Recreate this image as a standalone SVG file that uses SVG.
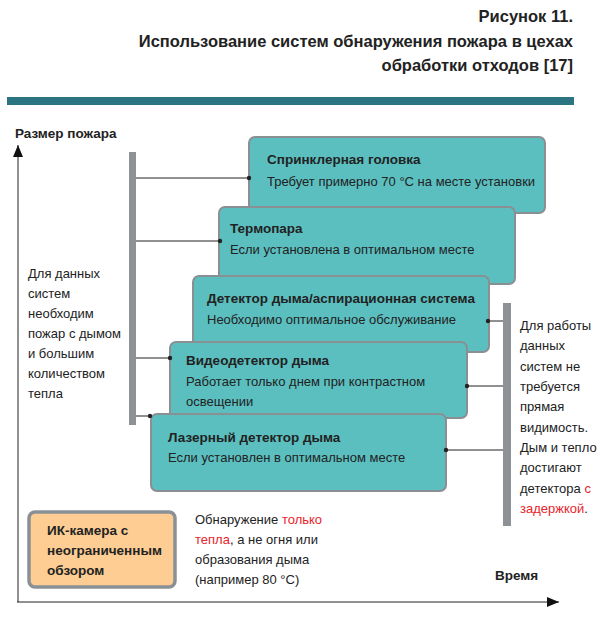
<svg xmlns="http://www.w3.org/2000/svg" width="600" height="618" viewBox="0 0 600 618">
<defs>
<style>
.t{font-family:"Liberation Sans",Arial,sans-serif;font-size:13px;fill:#222}
.b{font-family:"Liberation Sans",Arial,sans-serif;font-size:13.5px;font-weight:bold;fill:#222}
.h{font-family:"Liberation Sans",Arial,sans-serif;font-size:16.5px;font-weight:bold;fill:#222}
.red{fill:#e8242a}
.box{fill:#5bbfbf;stroke:#8a8f94;stroke-width:2}
.bar{fill:#8e9297}
.ln{stroke:#222;stroke-width:1;fill:none}
.dot{fill:#222}
</style>
<marker id="ah" viewBox="0 0 12 10" refX="12" refY="5" markerWidth="12" markerHeight="10" markerUnits="userSpaceOnUse" orient="auto"><path d="M0,0 L12,5 L0,10 Z" fill="#111"/></marker>
</defs>
<rect width="600" height="618" fill="#fff"/>
<g id="title">
<text class="h" x="573" y="22" text-anchor="end">Рисунок 11.</text>
<text class="h" x="573" y="47" text-anchor="end">Использование систем обнаружения пожара в цехах</text>
<text class="h" x="573" y="71" text-anchor="end">обработки отходов [17]</text>
<rect x="7" y="97" width="567" height="8" fill="#2b7583"/>
</g>
<g id="axes">
<line class="ln" x1="18" y1="602" x2="18" y2="145" stroke-width="1.5" marker-end="url(#ah)"/>
<line class="ln" x1="17" y1="602" x2="559" y2="602" stroke-width="1.5" marker-end="url(#ah)"/>
<text class="b" x="15" y="138">Размер пожара</text>
<text class="b" x="495" y="580">Время</text>
</g>
<g id="left-bar">
<rect class="bar" x="129" y="152" width="7" height="273"/>
<text class="t" x="28" y="278">Для данных</text>
<text class="t" x="28" y="298">систем</text>
<text class="t" x="28" y="318">необходим</text>
<text class="t" x="28" y="338">пожар с дымом</text>
<text class="t" x="28" y="358">и большим</text>
<text class="t" x="28" y="378">количеством</text>
<text class="t" x="28" y="398">тепла</text>
</g>
<g id="right-bar">
<rect class="bar" x="503" y="303" width="8" height="223"/>
<text class="t" x="520" y="330">Для работы</text>
<text class="t" x="520" y="350">данных</text>
<text class="t" x="520" y="371">систем не</text>
<text class="t" x="520" y="391">требуется</text>
<text class="t" x="520" y="411">прямая</text>
<text class="t" x="520" y="432">видимость.</text>
<text class="t" x="520" y="452">Дым и тепло</text>
<text class="t" x="520" y="472">достигают</text>
<text class="t" x="520" y="493">детектора <tspan class="red">с</tspan></text>
<text class="t" x="520" y="513"><tspan class="red">задержкой</tspan>.</text>
</g>
<g id="connectors">
<line class="ln" x1="136" y1="178" x2="249" y2="178"/>
<line class="ln" x1="136" y1="241" x2="220" y2="241"/>
<line class="ln" x1="136" y1="358" x2="170" y2="358"/>
<line class="ln" x1="136" y1="416" x2="150" y2="416"/>
<line class="ln" x1="488" y1="321" x2="503" y2="321"/>
<line class="ln" x1="467" y1="386" x2="503" y2="386"/>
<line class="ln" x1="446" y1="450" x2="503" y2="450"/>
</g>
<g id="node-sprinkler">
<rect class="box" x="249" y="137" width="296" height="76" rx="6"/>
<text class="b" x="267" y="164">Спринклерная головка</text>
<text class="t" x="267" y="186">Требует примерно 70 °C на месте установки</text>
</g>
<g id="node-thermocouple">
<rect class="box" x="219" y="207" width="296" height="77" rx="6"/>
<text class="b" x="230" y="233">Термопара</text>
<text class="t" x="230" y="254">Если установлена в оптимальном месте</text>
</g>
<g id="node-smoke">
<rect class="box" x="193" y="276" width="296" height="76" rx="6"/>
<text class="b" x="207" y="303">Детектор дыма/аспирационная система</text>
<text class="t" x="207" y="324">Необходимо оптимальное обслуживание</text>
</g>
<g id="node-video">
<rect class="box" x="170" y="342" width="297" height="76" rx="6"/>
<text class="b" x="186" y="365">Видеодетектор дыма</text>
<text class="t" x="186" y="386">Работает только днем при контрастном</text>
<text class="t" x="186" y="406">освещении</text>
</g>
<g id="node-laser">
<rect class="box" x="151" y="414" width="295" height="77" rx="6"/>
<text class="b" x="168" y="442">Лазерный детектор дыма</text>
<text class="t" x="168" y="462">Если установлен в оптимальном месте</text>
</g>
<g id="dots">
<circle class="dot" cx="249" cy="178" r="2.2"/>
<circle class="dot" cx="220" cy="241" r="2.2"/>
<circle class="dot" cx="170" cy="358" r="2.2"/>
<circle class="dot" cx="150" cy="416" r="2.2"/>
<circle class="dot" cx="488" cy="321" r="2.2"/>
<circle class="dot" cx="467" cy="386" r="2.2"/>
<circle class="dot" cx="446" cy="450" r="2.2"/>
</g>
<g id="node-ir">
<rect x="29" y="512" width="146" height="75" rx="6" fill="#fdcd93" stroke="#8a9196" stroke-width="3.5"/>
<text class="b" x="47" y="535">ИК-камера с</text>
<text class="b" x="47" y="555">неограниченным</text>
<text class="b" x="47" y="575">обзором</text>
</g>
<g id="ir-note">
<text class="t" x="195" y="524">Обнаружение <tspan class="red">только</tspan></text>
<text class="t" x="195" y="544"><tspan class="red">тепла</tspan>, а не огня или</text>
<text class="t" x="195" y="564">образования дыма</text>
<text class="t" x="195" y="584">(например 80 °C)</text>
</g>
</svg>
